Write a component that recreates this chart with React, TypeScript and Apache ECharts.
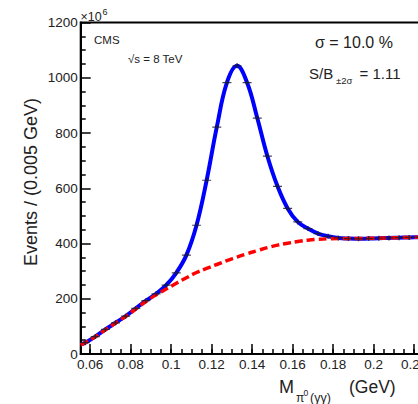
import React, { useEffect, useRef } from "react";
import * as echarts from "echarts";

// Bin centres (GeV), bin width 0.005 GeV
const binCenters = [
  0.0575, 0.0625, 0.0675, 0.0725, 0.0775, 0.0825, 0.0875, 0.0925, 0.0975,
  0.1025, 0.1075, 0.1125, 0.1175, 0.1225, 0.1275, 0.1325, 0.1375, 0.1425,
  0.1475, 0.1525, 0.1575, 0.1625, 0.1675, 0.1725, 0.1775, 0.1825, 0.1875,
  0.1925, 0.1975, 0.2025, 0.2075, 0.2125, 0.2175, 0.2225, 0.2275, 0.2325,
];
// Events / 0.005 GeV (x 10^6)
const dataValues = [
  41, 63, 89, 113, 137, 165, 193, 218, 249, 294, 358, 466, 629, 821, 982,
  1043, 982, 854, 716, 607, 527, 478, 454, 436, 426, 420, 418, 417, 418, 419,
  420, 421, 422, 423, 424, 425,
];
// Fit (signal + background), sampled at edges and bin centres
const fitX = [0.0553, ...binCenters, 0.235];
const fitY = [35, ...dataValues, 426];
// Background-only component (red dashed)
const bkgX = fitX;
const bkgY = [
  33, 41, 62, 88, 112, 136, 163, 190, 214, 235, 256, 276, 295, 310, 324, 338,
  351, 363, 374, 385, 394, 401, 407, 412, 415, 417, 418, 418, 418, 419, 419,
  420, 421, 422, 423, 424, 425, 426,
];

const xTickLabels = ["0.06", "0.08", "0.1", "0.12", "0.14", "0.16", "0.18", "0.2", "0.22"];
const yTickLabels = ["0", "200", "400", "600", "800", "1000", "1200"];

const FONT = "'Liberation Sans', Arial, Helvetica, sans-serif";
const TXT = "#222";

export default function App() {
  const ref = useRef<HTMLDivElement>(null);
  useEffect(() => {
    document.body.style.margin = "0";
    const chart = echarts.init(ref.current!, null, { renderer: "svg" });
    const xMin = 0.0553;
    const xMax = 0.235;
    const mid = { textVerticalAlign: "middle", verticalAlign: "middle", fontFamily: FONT, fill: TXT };
    const option: any = {
      animation: false,
      backgroundColor: "#ffffff",
      grid: {
        left: 80.7,
        top: 22.5,
        width: (xMax - xMin) * 2025,
        height: 331.5,
        containLabel: false,
        outerBoundsMode: "none",
        show: true,
        borderColor: "#000",
        borderWidth: 2,
        backgroundColor: "transparent",
      },
      xAxis: [
        {
          type: "value",
          min: xMin,
          max: xMax,
          splitNumber: 9,
          minInterval: 0.02,
          maxInterval: 0.02,
          axisLine: { show: true, onZero: false, lineStyle: { color: "#000", width: 2 } },
          axisTick: { show: true, inside: true, length: 10, lineStyle: { color: "#000", width: 1.5 } },
          minorTick: { show: false },
          splitLine: { show: false },
          axisLabel: {
            showMinLabel: false,
            showMaxLabel: false,
            hideOverlap: false,
            margin: 3,
            fontSize: 13.5,
            fontFamily: FONT,
            color: TXT,
            formatter: (v: number) => {
              const s = xTickLabels.find((t) => Math.abs(parseFloat(t) - v) < 1e-6);
              return s ?? "";
            },
          },
        },
        {
          type: "value",
          min: xMin,
          max: xMax,
          minInterval: 0.005,
          maxInterval: 0.005,
          splitNumber: 36,
          position: "bottom",
          axisLine: { show: false },
          axisTick: { show: true, inside: true, length: 5, lineStyle: { color: "#000", width: 1.5 } },
          axisLabel: { show: false },
          splitLine: { show: false },
        },
      ],
      yAxis: {
        type: "value",
        min: 0,
        max: 1200,
        interval: 200,
        axisLine: { show: true, onZero: false, lineStyle: { color: "#000", width: 2 } },
        axisTick: { show: true, inside: true, length: 10, lineStyle: { color: "#000", width: 1.5 } },
        minorTick: { show: true, splitNumber: 4, length: 5, lineStyle: { color: "#000", width: 1.5 } },
        splitLine: { show: false },
        axisLabel: {
          margin: 3,
          fontSize: 13.5,
          fontFamily: FONT,
          color: TXT,
          formatter: (v: number) => yTickLabels.find((t) => Number(t) === v) ?? "",
        },
      },
      series: [
        {
          type: "line",
          name: "fit",
          data: fitX.map((x, i) => [x, fitY[i]]),
          smooth: 0.4,
          showSymbol: false,
          lineStyle: { color: "#0000ff", width: 4 },
          z: 2,
        },
        {
          type: "line",
          name: "background",
          data: bkgX.map((x, i) => [x, bkgY[i]]),
          smooth: 0.4,
          showSymbol: false,
          lineStyle: { color: "#ff0000", width: 3.5, type: [8, 4] },
          z: 3,
        },
        {
          type: "scatter",
          name: "data",
          data: binCenters.map((x, i) => [x, dataValues[i]]),
          symbol: "path://M0,2.2h9v1.4h-9z M3.8,0h1.4v5.8h-1.4z",
          symbolSize: [9, 5],
          itemStyle: { color: "#1a1a2a" },
          z: 4,
        },
      ],
      graphic: [
        { type: "text", x: 80.5, y: 16.5, style: { ...mid, text: "×10", fontSize: 12.5 } },
        { type: "text", x: 102.5, y: 11.5, style: { ...mid, text: "6", fontSize: 9 } },
        { type: "text", x: 94, y: 39.5, style: { ...mid, text: "CMS", fontSize: 11.5 } },
        { type: "text", x: 128, y: 58.5, style: { ...mid, text: "√s = 8 TeV", fontSize: 11.5 } },
        { type: "text", x: 315, y: 42, style: { ...mid, text: "σ = 10.0 %", fontSize: 16 } },
        { type: "text", x: 309, y: 73, style: { ...mid, text: "S/B", fontSize: 15 } },
        { type: "text", x: 336, y: 80.5, style: { ...mid, text: "±2σ", fontSize: 9.5 } },
        { type: "text", x: 359.5, y: 73, style: { ...mid, text: "= 1.11", fontSize: 15 } },
        {
          type: "text",
          x: 31,
          y: 182,
          rotation: Math.PI / 2,
          style: { ...mid, text: "Events / (0.005 GeV)", fontSize: 18, textAlign: "center" },
        },
        { type: "text", x: 279, y: 387, style: { ...mid, text: "M", fontSize: 18 } },
        { type: "text", x: 296, y: 397.5, style: { ...mid, text: "π", fontSize: 12 } },
        { type: "text", x: 303.5, y: 393, style: { ...mid, text: "0", fontSize: 8.5 } },
        { type: "text", x: 310, y: 397.5, style: { ...mid, text: "(γγ)", fontSize: 12.5 } },
        { type: "text", x: 349, y: 387, style: { ...mid, text: "(GeV)", fontSize: 17.5 } },
      ],
    };
    chart.setOption(option);
    return () => chart.dispose();
  }, []);
  return (
    <div
      ref={ref}
      style={{ position: "absolute", left: 0, top: 0, width: 418, height: 404, overflow: "hidden" }}
    />
  );
}
